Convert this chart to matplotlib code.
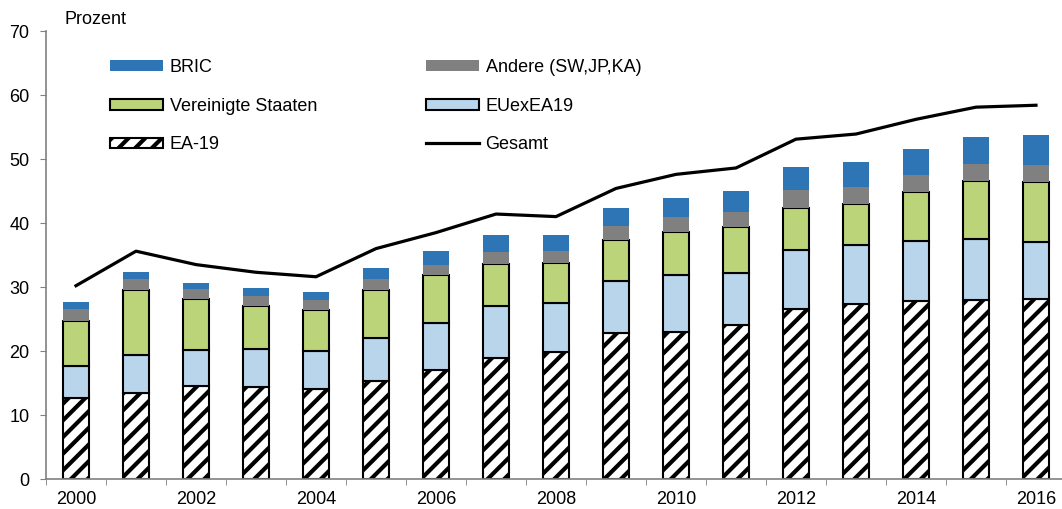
import matplotlib
matplotlib.use("Agg")
import matplotlib.pyplot as plt
import numpy as np

plt.rcParams['font.family'] = ['Liberation Sans', 'DejaVu Sans']
plt.rcParams['hatch.linewidth'] = 3.0

years = list(range(2000, 2017))
ea19 = [12.7, 13.4, 14.6, 14.4, 14.0, 15.3, 17.1, 18.9, 19.9, 22.8, 23.0, 24.1, 26.6, 27.4, 27.8, 28.0, 28.1]
euexea19 = [5.0, 5.9, 5.6, 5.9, 6.0, 6.7, 7.2, 8.2, 7.6, 8.2, 8.9, 8.1, 9.2, 9.2, 9.4, 9.5, 9.0]
usa = [7.0, 10.2, 7.9, 6.8, 6.4, 7.5, 7.5, 6.5, 6.25, 6.4, 6.7, 7.1, 6.5, 6.4, 7.6, 9.0, 9.3]
andere = [1.8, 1.75, 1.6, 1.5, 1.5, 1.7, 1.7, 1.9, 1.95, 2.1, 2.4, 2.4, 2.9, 2.7, 2.7, 2.7, 2.7]
bric = [1.1, 1.15, 1.0, 1.2, 1.3, 1.8, 2.1, 2.7, 2.5, 2.8, 2.9, 3.3, 3.6, 3.8, 4.1, 4.3, 4.6]
gesamt = [30.2, 35.6, 33.5, 32.3, 31.6, 36.0, 38.5, 41.4, 41.0, 45.4, 47.6, 48.6, 53.1, 53.9, 56.2, 58.1, 58.4]

fs = 13

fig = plt.figure(figsize=(10.62, 5.09), dpi=100)
# axis runs a little past the right edge, like the original
ax = fig.add_axes([46/1062, 30/509, 1020/1062, 448/509])

x = np.arange(len(years))
w = 0.43
b = np.zeros(len(years))

h_ea = ax.bar(x, ea19, w, bottom=b, color='white', edgecolor='black', linewidth=1.5, hatch='//', label='EA-19')
b += ea19
h_eu = ax.bar(x, euexea19, w, bottom=b, color='#b8d5ec', edgecolor='black', linewidth=1.5, label='EUexEA19')
b += euexea19
h_us = ax.bar(x, usa, w, bottom=b, color='#bbd47a', edgecolor='black', linewidth=1.5, label='Vereinigte Staaten')
b += usa
h_and = ax.bar(x, andere, w, bottom=b, color='#808080', linewidth=0, label='Andere (SW,JP,KA)')
b += andere
h_bric = ax.bar(x, bric, w, bottom=b, color='#2e75b6', linewidth=0, label='BRIC')

h_ges, = ax.plot(x, gesamt, color='black', linewidth=2.3, label='Gesamt')

ax.set_xlim(-0.5, len(years) - 0.5)
ax.set_ylim(0, 70)
ax.set_yticks(range(0, 71, 10))

# labels every second year, tick marks between the bars
ax.set_xticks(x[::2])
ax.set_xticklabels([str(y) for y in years[::2]])
ax.set_xticks(np.arange(-0.5, len(years), 1), minor=True)
ax.tick_params(axis='x', which='major', length=0, pad=9, labelsize=fs)
ax.tick_params(axis='x', which='minor', length=4, color='#808080', direction='out')
ax.tick_params(axis='y', length=4, color='#808080', labelsize=fs, pad=8)

for s in ['top', 'right']:
    ax.spines[s].set_visible(False)
for s in ['left', 'bottom']:
    ax.spines[s].set_color('#808080')
    ax.spines[s].set_linewidth(1.2)

fig.text(65/1062, 1 - 20/509, 'Prozent', fontsize=fs, va='center', ha='left')

handles = [h_bric, h_us, h_ea, h_and, h_eu, h_ges]
labels = [h.get_label() for h in handles]
ax.legend(handles, labels, ncol=2, loc='upper left',
          bbox_to_anchor=(110/1062, 1 - 59/509), bbox_transform=fig.transFigure,
          frameon=False, fontsize=fs, borderpad=0, borderaxespad=0,
          handlelength=2.93, handleheight=0.55, handletextpad=0.39,
          labelspacing=1.2, columnspacing=6.0)

fig.savefig('out.png', dpi=100)
